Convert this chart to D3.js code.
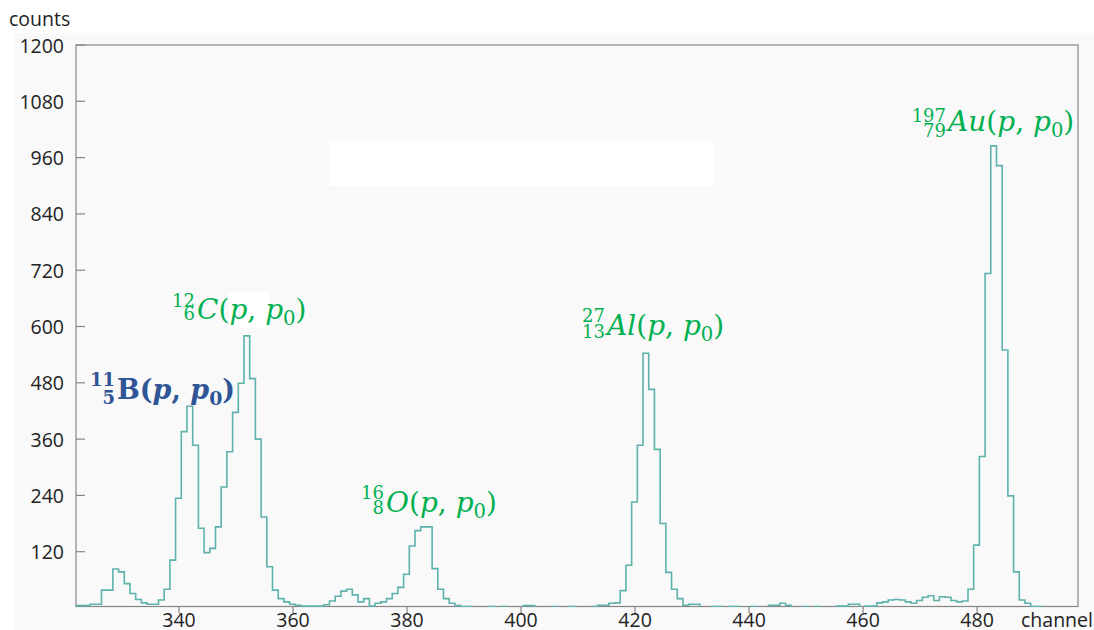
<!DOCTYPE html>
<html>
<head>
<meta charset="utf-8">
<script src="https://cdn.jsdelivr.net/npm/d3@7/dist/d3.min.js"></script>
<style>
  html, body { margin: 0; padding: 0; background: #ffffff; }
  svg { display: block; }
</style>
</head>
<body>
<svg id="chart" width="1094" height="630"></svg>
<script>
// ---------------- data ----------------
const firstChannel = 321;
const counts = [
  5, 5, 5, 8, 8, 38, 38, 83, 77, 52,          // 321-330
  31, 18, 11, 8, 8, 17, 40, 102, 234, 376,    // 331-340
  430, 347, 170, 118, 127, 173, 258, 333, 417, 479, // 341-350
  580, 489, 360, 194, 88, 38, 20, 13, 8, 6,   // 351-360
  4, 4, 4, 4, 7, 15, 25, 36, 40, 28,          // 361-370
  13, 20, 4, 10, 13, 20, 31, 44, 72, 132,     // 371-380
  165, 173, 173, 84, 40, 20, 10, 5, 3, 3,     // 381-390
  0, 0, 0, 3, 0, 3, 0, 0, 0, 5,               // 391-400
  5, 0, 0, 0, 3, 0, 0, 3, 0, 0,               // 401-410
  0, 3, 6, 6, 10, 11, 37, 91, 226, 347,       // 411-420
  543, 466, 338, 180, 76, 40, 20, 6, 8, 8,    // 421-430
  0, 0, 3, 3, 0, 3, 3, 0, 0, 3,               // 431-440
  0, 0, 6, 6, 10, 6, 0, 0, 3, 0,              // 441-450
  3, 0, 0, 0, 4, 4, 8, 8, 0, 4,               // 451-460
  4, 11, 13, 17, 18, 17, 13, 10, 16, 23,      // 461-470
  26, 16, 24, 23, 16, 13, 15, 40, 134, 323,   // 471-480
  713, 985, 943, 550, 239, 77, 17, 10, 3, 3   // 481-490
];
const xTickValues = [340, 360, 380, 400, 420, 440, 460, 480];
const yTickValues = [120, 240, 360, 480, 600, 720, 840, 960, 1080, 1200];

const labelMass   = ["11", "12", "16", "27", "197"];
const labelZ      = ["5", "6", "8", "13", "79"];
const labelSymbol = ["B", "C", "O", "Al", "Au"];

// ---------------- layout ----------------
const svg = d3.select("#chart");
const W = 1094, H = 630;
const plot = { left: 76, right: 1078, top: 45, bottom: 606.5 };
const binOffset = 0.4;

const x = d3.scaleLinear().domain([321.93, 497.7]).range([plot.left, plot.right]);
const y = d3.scaleLinear().domain([0, 1200]).range([608, plot.top]);

// backgrounds
svg.append("rect").attr("x", 0).attr("y", 0).attr("width", W).attr("height", H).attr("fill", "#ffffff");
svg.append("rect").attr("x", 15).attr("y", 33).attr("width", W - 15).attr("height", H - 33).attr("fill", "#f9f9f9");

// clip
svg.append("clipPath").attr("id", "clip")
  .append("rect").attr("x", plot.left).attr("y", plot.top)
  .attr("width", plot.right - plot.left).attr("height", plot.bottom - plot.top + 0.6);

// histogram
const pts = counts.map((v, i) => [x(firstChannel + i + binOffset), y(v)]);
const last = counts.length - 1;
pts.push([x(firstChannel + last + 1 + binOffset), y(counts[last])]);
const line = d3.line().curve(d3.curveStepAfter);

// frame
const axisColor = "#858585";
svg.append("rect")
  .attr("x", plot.left).attr("y", plot.top)
  .attr("width", plot.right - plot.left).attr("height", plot.bottom - plot.top)
  .attr("fill", "none").attr("stroke", axisColor).attr("stroke-width", 1.2);

svg.append("path")
  .attr("d", line(pts))
  .attr("clip-path", "url(#clip)")
  .attr("fill", "none")
  .attr("stroke", "#5db2ad")
  .attr("stroke-width", 1.6);

// y axis ticks (inward) and labels
const fontAxis = "'Open Sans', 'DejaVu Sans', sans-serif";
const yg = svg.append("g");
yg.selectAll("line").data(yTickValues).join("line")
  .attr("x1", plot.left).attr("x2", plot.left + 9)
  .attr("y1", d => y(d)).attr("y2", d => y(d))
  .attr("stroke", axisColor).attr("stroke-width", 1.2);
yg.selectAll("text").data(yTickValues).join("text")
  .attr("x", 64).attr("y", d => y(d))
  .attr("text-anchor", "end").attr("dominant-baseline", "central")
  .attr("font-family", fontAxis).attr("font-size", 19.5).attr("fill", "#222")
  .text(d => d);

// x axis ticks (outward) and labels
const xg = svg.append("g");
xg.selectAll("line").data(xTickValues).join("line")
  .attr("x1", d => x(d)).attr("x2", d => x(d))
  .attr("y1", plot.bottom).attr("y2", plot.bottom + 7)
  .attr("stroke", axisColor).attr("stroke-width", 1.2);
xg.selectAll("text").data(xTickValues).join("text")
  .attr("x", d => x(d)).attr("y", 626.5)
  .attr("text-anchor", "middle")
  .attr("font-family", fontAxis).attr("font-size", 19.5).attr("fill", "#222")
  .text(d => d);

svg.append("text").attr("x", 1021).attr("y", 626.5)
  .attr("font-family", fontAxis).attr("font-size", 19.5).attr("fill", "#222")
  .text("channel");
svg.append("text").attr("x", 9).attr("y", 26)
  .attr("font-family", fontAxis).attr("font-size", 19.5).attr("fill", "#222")
  .text("counts");

// white cover boxes
svg.append("rect").attr("x", 330).attr("y", 141).attr("width", 384).attr("height", 45).attr("fill", "#ffffff");
svg.append("rect").attr("x", 229).attr("y", 292).attr("width", 40).attr("height", 36).attr("fill", "#ffffff");

// ---------------- reaction labels ----------------
const green = "#00b050", blue = "#2f5597";
const serif = "'DejaVu Serif', 'Liberation Serif', serif";
const labelPos = [
  { x: 117, y: 399, sup: 386, sub: 404, color: blue, bold: true, size: 27 },
  { x: 197, y: 319, sup: 307, sub: 320, color: green, bold: false, size: 28 },
  { x: 386, y: 512, sup: 499, sub: 514, color: green, bold: false, size: 28 },
  { x: 607, y: 335, sup: 322, sub: 338, color: green, bold: false, size: 28 },
  { x: 948, y: 131, sup: 122, sub: 137, color: green, bold: false, size: 28 }
];

labelSymbol.forEach((sym, i) => {
  const p = labelPos[i];
  const g = svg.append("g").attr("fill", p.color).attr("font-family", serif)
    .attr("font-weight", p.bold ? "bold" : "normal");
  g.append("text").attr("x", p.x - 2).attr("y", p.sup).attr("text-anchor", "end")
    .attr("font-size", 18).text(labelMass[i]);
  g.append("text").attr("x", p.x - 2).attr("y", p.sub).attr("text-anchor", "end")
    .attr("font-size", 18).text(labelZ[i]);
  const t = g.append("text").attr("x", p.x).attr("y", p.y).attr("font-size", p.size);
  t.append("tspan").attr("font-style", p.bold ? "normal" : "italic").text(sym);
  t.append("tspan").attr("font-style", "normal").text("(");
  t.append("tspan").attr("font-style", "italic").text("p");
  t.append("tspan").attr("font-style", "normal").text(", ");
  t.append("tspan").attr("font-style", "italic").text("p");
  t.append("tspan").attr("font-style", "normal").attr("font-size", p.size * 0.7).attr("dy", 6).text("0");
  t.append("tspan").attr("font-style", "normal").attr("dy", -6).text(")");
});
</script>
</body>
</html>
